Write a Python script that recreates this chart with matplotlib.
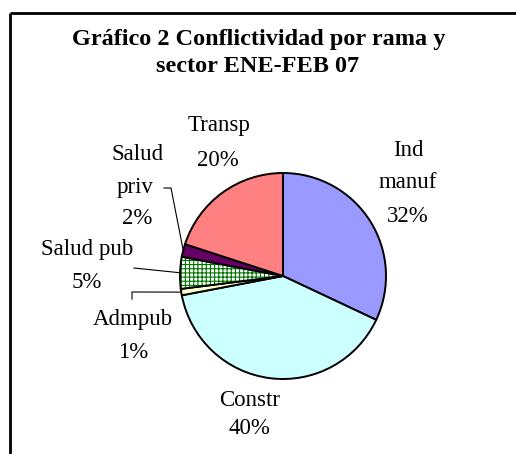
import numpy as np
import matplotlib
matplotlib.use("Agg")
import matplotlib.pyplot as plt

labels = ["Ind\nmanuf", "Constr", "Admpub", "Salud pub", "Salud\npriv", "Transp"]
values = [32, 40, 1, 5, 2, 20]
colors = ["#9999FF", "#CCFFFF", "#FFFFCC", "#FFFFFF", "#660066", "#FF8080"]

W, H = 516, 454
def Y(y):
    return H - y

plt.rcParams['font.family'] = ['Liberation Serif', 'DejaVu Serif']
plt.rcParams['hatch.linewidth'] = 0.8

fig = plt.figure(figsize=(W / 100, H / 100), dpi=100)
ax = fig.add_axes([0, 0, 1, 1])

wedges, _ = ax.pie(values, colors=colors, startangle=90, counterclock=False,
                   center=(283, Y(276)), radius=103,
                   wedgeprops=dict(edgecolor="black", linewidth=1.4))

# checkered fill for Salud pub
w = wedges[3]
w.set_hatch("++++")
w._hatch_color = (0.0, 0.45, 0.0, 1.0)

ax.set_xlim(0, W)
ax.set_ylim(0, H)
ax.set_aspect("equal")
ax.axis("off")

# frame (only left and top edges visible)
ax.plot([10, 10], [Y(13), -10], color="black", lw=2.0, solid_capstyle="butt")
ax.plot([10, W + 10], [Y(13), Y(13)], color="black", lw=2.0, solid_capstyle="butt")

ax.text(259, Y(39), "Gráfico 2 Conflictividad por rama y", ha="center", va="center",
        fontsize=17.5, fontweight="bold")
ax.text(258, Y(66), "sector ENE-FEB 07", ha="center", va="center",
        fontsize=17.5, fontweight="bold")

pct = ["%d%%" % v for v in values]
lab_fs = 16.5
def put(x, y, text):
    ax.text(x, Y(y), text, ha="center", va="center", fontsize=lab_fs)

put(408, 150, "Ind")
put(408, 183, "manuf")
put(408, 216, pct[0])
put(250, 401, labels[1])
put(249, 428, pct[1])
put(133, 320, labels[2])
put(133, 353, pct[2])
put(87, 250, labels[3])
put(87, 283, pct[3])
put(138, 155, "Salud")
put(135, 188, "priv")
put(137, 219, pct[4])
put(219, 125, labels[5])
put(218, 160, pct[5])

def edge_point(wd):
    a = np.deg2rad((wd.theta1 + wd.theta2) / 2)
    cx, cy = wd.center
    return cx + wd.r * np.cos(a), cy + wd.r * np.sin(a)

# leader lines for small slices
px, py = edge_point(wedges[2])
ax.plot([132, 132, px], [Y(299), Y(292), py], color="black", lw=0.8)
px, py = edge_point(wedges[3])
ax.plot([134, px], [Y(268), py], color="black", lw=0.8)
px, py = edge_point(wedges[4])
ax.plot([164, 171, px], [Y(188), Y(188), py], color="black", lw=0.8)

fig.savefig("out.png", dpi=100)
